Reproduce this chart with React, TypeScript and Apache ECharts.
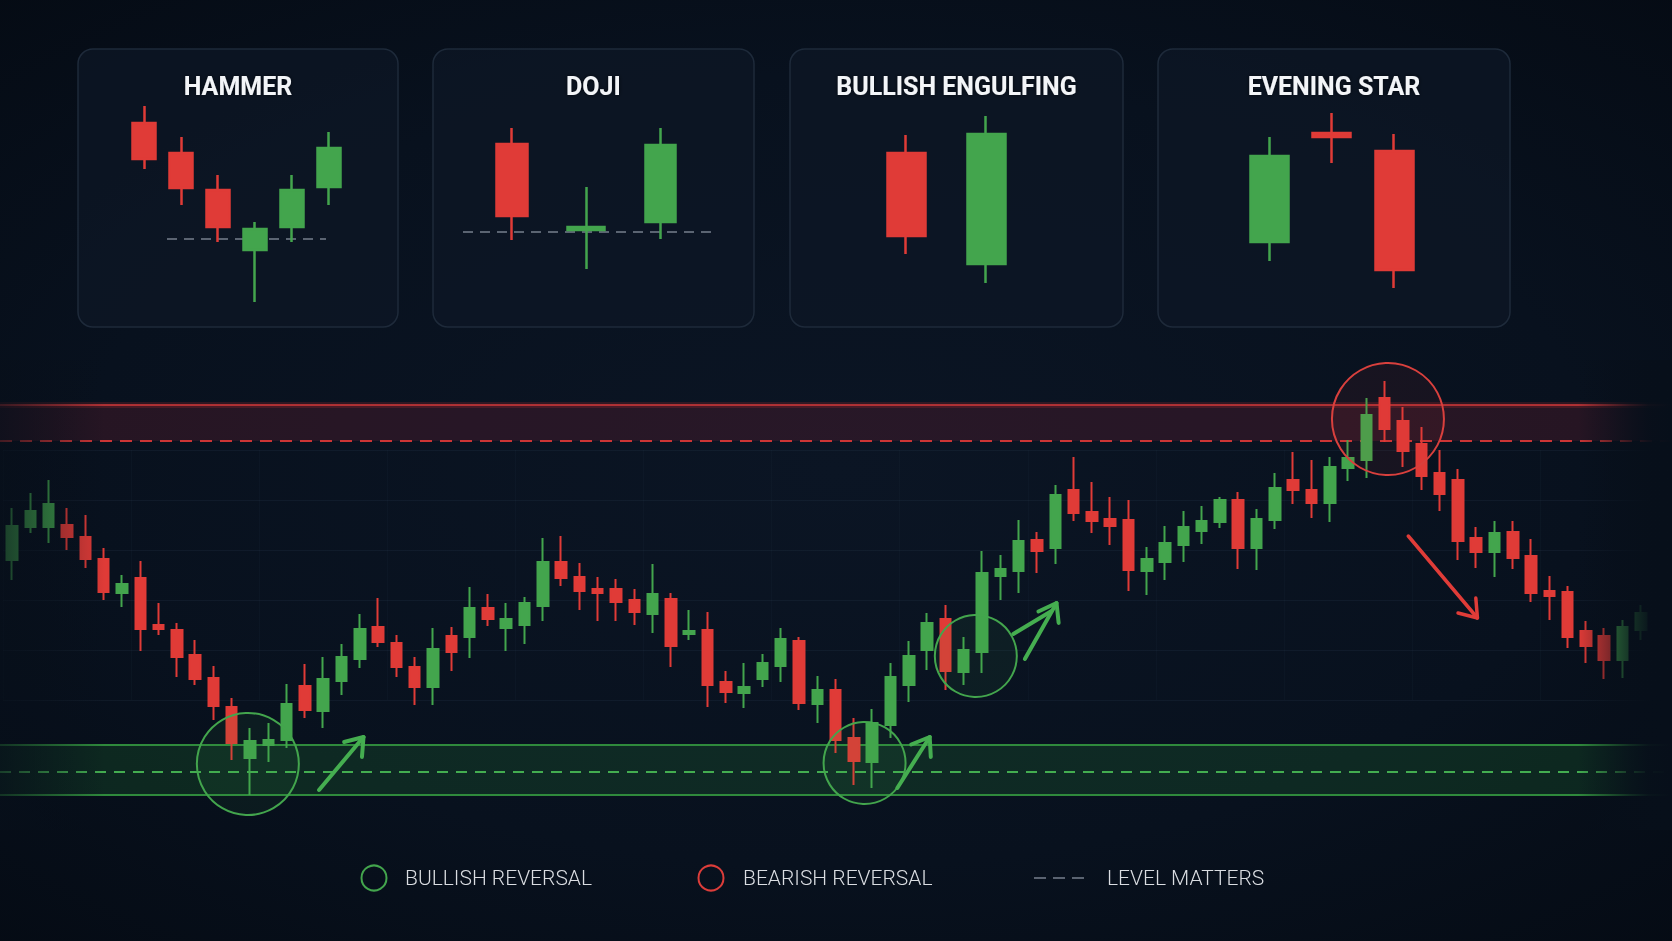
import React, { useEffect, useRef } from "react";
import * as echarts from "echarts";

const W = 1672;
const H = 941;
const GREEN = "#43a54d";
const RED = "#e03b37";
const FADE = "7,15,26";

// ---------- main chart data: [open, close, low, high] ----------
const mainCandles: number[][] = [
  [340, 374, 320, 392], [373, 389, 367, 407], [373, 396, 357, 420], [375, 363, 350, 392],
  [363, 341, 332, 385], [341, 308, 300, 352], [307, 316, 293, 325], [322, 271, 249, 339],
  [275, 271, 265, 297], [270, 243, 223, 277], [245, 221, 215, 260], [222, 194, 180, 234],
  [193, 157, 140, 202], [142, 159, 105, 172], [155, 160, 138, 177], [160, 196, 152, 216],
  [214, 190, 182, 236], [189, 221, 172, 243], [219, 243, 205, 256], [241, 271, 232, 286],
  [273, 258, 253, 302], [257, 233, 223, 265], [233, 213, 195, 243], [213, 251, 195, 272],
  [264, 248, 229, 273], [263, 292, 242, 313], [292, 281, 274, 306], [272, 281, 249, 297],
  [275, 297, 256, 303], [294, 338, 279, 362], [338, 322, 314, 364], [323, 309, 290, 337],
  [311, 307, 279, 323], [311, 298, 279, 321], [300, 288, 275, 311], [286, 306, 267, 336],
  [301, 254, 233, 307], [266, 269, 260, 290], [270, 215, 193, 288], [218, 208, 197, 229],
  [207, 213, 192, 237], [221, 237, 213, 246], [234, 261, 218, 272], [259, 197, 190, 263],
  [196, 210, 177, 224], [210, 160, 147, 221], [162, 139, 115, 182], [138, 177, 112, 191],
  [175, 223, 162, 237], [215, 244, 198, 259], [250, 277, 230, 287], [281, 229, 210, 295],
  [228, 250, 215, 263], [248, 327, 227, 349], [324, 331, 300, 345], [329, 359, 307, 380],
  [360, 349, 327, 368], [352, 405, 336, 415], [410, 387, 379, 443], [388, 379, 367, 418],
  [381, 374, 355, 403], [380, 330, 309, 400], [329, 341, 305, 353], [338, 357, 320, 374],
  [355, 373, 338, 389], [369, 379, 356, 394], [378, 400, 372, 403], [400, 352, 331, 408],
  [352, 381, 330, 391], [380, 412, 371, 427], [420, 410, 396, 448], [410, 397, 382, 440],
  [397, 433, 378, 443], [432, 442, 419, 460], [440, 485, 422, 502], [502, 471, 458, 519],
  [479, 449, 433, 493], [456, 424, 410, 473], [427, 406, 389, 450], [420, 359, 340, 431],
  [362, 348, 332, 373], [348, 367, 323, 379], [368, 342, 331, 379], [344, 307, 298, 361],
  [309, 304, 280, 324], [308, 263, 252, 314], [269, 254, 237, 279], [264, 240, 221, 272],
  [240, 273, 222, 280], [270, 287, 260, 295],
];
const mainCategories = mainCandles.map((_, i) => `T${i + 1}`);

// price levels
const resistanceTop = 495;
const resistanceLevel = 459;
const supportTop = 155;
const supportLevel = 128;
const supportBottom = 105;

// reversal markers: [candle index, price, radius px]
const bullishMarks = [[12.88, 136, 51], [46.58, 137, 41], [52.66, 244, 41]];
const bearishMarks = [[75.18, 481, 56]];
// arrows: [from index, from price, to index, to price]
const bullishArrows = [[16.77, 110, 19.2, 163], [48.37, 112, 50.14, 163], [55.34, 241, 57.07, 297]];
const bearishArrows = [[76.29, 364, 80.07, 282]];
const guideStrokes = [[54.71, 266, 56.8, 289]];

// ---------- pattern panels ----------
const patternTitles = ["HAMMER", "DOJI", "BULLISH ENGULFING", "EVENING STAR"];
const hammerCandles = [
  [177, 141, 131, 194], [147, 112, 95, 163], [110, 73, 58, 125],
  [50, 71, -2, 78], [73, 110, 58, 125], [113, 152, 95, 168],
];
const hammerLevel = 61;
const dojiCandles = [[156, 84, 60, 172], [70, 73, 31, 113], [78, 155, 61, 172]];
const dojiIndex = 1;
const dojiLevel = 68;
const engulfCandles = [[147, 64, 46, 165], [36, 166, 17, 184]];
const starCandles = [[58, 144, 39, 163], [167, 163, 137, 187], [149, 30, 12, 166]];

const legendLabels = ["BULLISH REVERSAL", "BEARISH REVERSAL", "LEVEL MATTERS"];

// ---------- layout ----------
const panelBoxes = [
  { x: 78, y: 49, w: 320, h: 278 },
  { x: 433, y: 49, w: 321, h: 278 },
  { x: 790, y: 49, w: 333, h: 278 },
  { x: 1158, y: 49, w: 352, h: 278 },
];
const panelGrids = [
  { left: 126, width: 221, bar: 23.5 },
  { left: 475, width: 222.6, bar: 31 },
  { left: 866, width: 160, bar: 38.5 },
  { left: 1238.5, width: 186.6, bar: 38.5 },
];
const levelSpans = [[167, 326], [463, 717]];
const legendLayout = [
  { icon: 374, text: 405 },
  { icon: 711, text: 743 },
  { icon: 1034, text: 1107 },
];
const LEGEND_Y = 878;

const EMPTY = ["-", "-", "-", "-"];

function candleStyle(bw: number) {
  return {
    color: GREEN,
    color0: RED,
    borderColor: GREEN,
    borderColor0: RED,
    borderWidth: bw,
  };
}

function buildOption() {
  const panelSets = [hammerCandles, dojiCandles, engulfCandles, starCandles];
  const grids: any[] = [{ left: 3, width: 1647, top: 450, height: 250 }];
  const xAxes: any[] = [
    {
      type: "category",
      gridIndex: 0,
      data: mainCategories,
      boundaryGap: true,
      axisLine: { show: false },
      axisTick: { show: false },
      axisLabel: { show: false },
      splitLine: { show: true, interval: 6, lineStyle: { color: "rgba(70,95,125,0.06)", width: 1 } },
    },
  ];
  const yAxes: any[] = [
    {
      type: "value",
      gridIndex: 0,
      min: 200,
      max: 450,
      interval: 50,
      axisLine: { show: false },
      axisTick: { show: false },
      axisLabel: { show: false },
      splitLine: { show: true, lineStyle: { color: "rgba(70,95,125,0.12)", width: 1 } },
    },
  ];
  const series: any[] = [
    {
      type: "candlestick",
      name: "price",
      xAxisIndex: 0,
      yAxisIndex: 0,
      data: mainCandles,
      barWidth: 11,
      clip: false,
      itemStyle: candleStyle(2),
      z: 3,
    },
  ];
  panelSets.forEach((set, k) => {
    const g = panelGrids[k];
    grids.push({ left: g.left, width: g.width, top: 100, height: 220 });
    xAxes.push({ type: "category", gridIndex: k + 1, data: set.map((_, i) => `${patternTitles[k]}-${i}`), show: false });
    yAxes.push({ type: "value", gridIndex: k + 1, min: -20, max: 200, show: false });
    const isDoji = k === 1;
    series.push({
      type: "candlestick",
      xAxisIndex: k + 1,
      yAxisIndex: k + 1,
      data: isDoji ? set.map((c, i) => (i === dojiIndex ? EMPTY : c)) : set,
      barWidth: g.bar,
      clip: false,
      itemStyle: candleStyle(2.5),
      z: 3,
    });
    if (isDoji) {
      series.push({
        type: "candlestick",
        xAxisIndex: k + 1,
        yAxisIndex: k + 1,
        data: set.map((c, i) => (i === dojiIndex ? c : EMPTY)),
        barWidth: 37.5,
        clip: false,
        itemStyle: candleStyle(2.5),
        z: 3,
      });
    }
  });
  return {
    animation: false,
    backgroundColor: "transparent",
    grid: grids,
    xAxis: xAxes,
    yAxis: yAxes,
    series,
  };
}

function buildGraphics(chart: any) {
  const px = (gi: number, i: number, v: number) =>
    chart.convertToPixel({ gridIndex: gi }, [i, v]) as number[];
  const mp = (i: number, v: number) => {
    const i0 = Math.floor(i);
    const f = i - i0;
    const a = px(0, i0, v);
    const b = px(0, i0 + 1, v);
    return [a[0] + (b[0] - a[0]) * f, a[1]];
  };
  const yOf = (v: number) => px(0, 0, v)[1];
  const els: any[] = [];

  // panels
  panelBoxes.forEach((b, k) => {
    els.push({
      type: "rect",
      z: 0,
      shape: { x: b.x, y: b.y, width: b.w, height: b.h, r: 15 },
      style: { fill: "rgba(13,23,37,0.75)", stroke: "#1e2a3a", lineWidth: 1.5 },
    });
    els.push({
      type: "text",
      z: 6,
      style: {
        text: patternTitles[k],
        x: b.x + b.w / 2,
        y: 86,
        align: "center",
        verticalAlign: "middle",
        fontFamily: "Roboto",
        fontWeight: "bold",
        fontSize: 25,
        fill: "#f3f5f8",
        textShadowColor: "rgba(0,0,0,0.6)",
        textShadowBlur: 4,
      },
    });
  });
  const levels = [hammerLevel, dojiLevel];
  levels.forEach((lv, k) => {
    const y = px(k + 1, 0, lv)[1];
    els.push({
      type: "line",
      z: 1,
      shape: { x1: levelSpans[k][0], y1: y, x2: levelSpans[k][1], y2: y },
      style: { stroke: "#5b6472", lineWidth: 2, lineDash: [10, 7] },
    });
  });

  // zones
  const rTop = yOf(resistanceTop), rLv = yOf(resistanceLevel);
  const sTop = yOf(supportTop), sLv = yOf(supportLevel), sBot = yOf(supportBottom);
  els.push({ type: "rect", z: 0, shape: { x: 0, y: rTop, width: W, height: rLv - rTop }, style: { fill: "rgba(150,40,55,0.21)" } });
  els.push({ type: "rect", z: 0, shape: { x: 0, y: sTop, width: W, height: sBot - sTop }, style: { fill: "rgba(40,150,60,0.19)" } });
  els.push({ type: "line", z: 1, shape: { x1: 0, y1: rTop, x2: W, y2: rTop }, style: { stroke: "rgba(220,50,50,0.18)", lineWidth: 6 } });
  els.push({ type: "line", z: 1, shape: { x1: 0, y1: rTop, x2: W, y2: rTop }, style: { stroke: "#d43a3a", lineWidth: 1.6 } });
  els.push({ type: "line", z: 1, shape: { x1: 0, y1: rLv, x2: W, y2: rLv }, style: { stroke: "#cc3535", lineWidth: 2, lineDash: [12, 8] } });
  els.push({ type: "line", z: 1, shape: { x1: 0, y1: sTop, x2: W, y2: sTop }, style: { stroke: "#2f8a3c", lineWidth: 2 } });
  els.push({ type: "line", z: 1, shape: { x1: 0, y1: sBot, x2: W, y2: sBot }, style: { stroke: "#2f8a3c", lineWidth: 2 } });
  els.push({ type: "line", z: 1, shape: { x1: 0, y1: sLv, x2: W, y2: sLv }, style: { stroke: "#43ad50", lineWidth: 2, lineDash: [11, 8] } });

  // reversal circles
  const circ = (m: number[], color: string, fill: string) => {
    const c = mp(m[0], m[1]);
    els.push({ type: "circle", z: 6, shape: { cx: c[0], cy: c[1], r: m[2] }, style: { fill, stroke: color, lineWidth: 2 } });
  };
  bullishMarks.forEach((m) => circ(m, GREEN, "rgba(60,170,80,0.08)"));
  bearishMarks.forEach((m) => circ(m, "#d9403d", "rgba(220,60,60,0.07)"));

  // arrows
  const arrow = (a: number[], color: string, lw: number) => {
    const tail = mp(a[0], a[1]);
    const tip = mp(a[2], a[3]);
    const dx = tail[0] - tip[0], dy = tail[1] - tip[1];
    const d = Math.hypot(dx, dy);
    const ux = dx / d, uy = dy / d;
    const rot = (ang: number, len: number) => [
      tip[0] + len * (ux * Math.cos(ang) - uy * Math.sin(ang)),
      tip[1] + len * (ux * Math.sin(ang) + uy * Math.cos(ang)),
    ];
    const st = { stroke: color, lineWidth: lw, lineCap: "round", lineJoin: "round", fill: null };
    els.push({ type: "polyline", z: 7, shape: { points: [tail, tip] }, style: st });
    els.push({ type: "polyline", z: 7, shape: { points: [rot(0.62, 20), tip, rot(-0.62, 20)] }, style: st });
  };
  bullishArrows.forEach((a) => arrow(a, "#45ae50", 4));
  bearishArrows.forEach((a) => arrow(a, "#e03c38", 3.5));
  guideStrokes.forEach((g) => {
    const p = mp(g[0], g[1]), q = mp(g[2], g[3]);
    els.push({ type: "polyline", z: 7, shape: { points: [p, q] }, style: { stroke: "#45ae50", lineWidth: 4, lineCap: "round", fill: null } });
  });

  // edge fades
  els.push({
    type: "rect", z: 9, shape: { x: 0, y: 360, width: 105, height: 470 },
    style: {
      fill: {
        type: "linear", x: 0, y: 0, x2: 1, y2: 0,
        colorStops: [
          { offset: 0, color: `rgba(${FADE},0.7)` },
          { offset: 0.5, color: `rgba(${FADE},0.35)` },
          { offset: 1, color: `rgba(${FADE},0)` },
        ],
      },
    },
  });
  els.push({
    type: "rect", z: 9, shape: { x: 1578, y: 360, width: 94, height: 470 },
    style: {
      fill: {
        type: "linear", x: 0, y: 0, x2: 1, y2: 0,
        colorStops: [
          { offset: 0, color: `rgba(${FADE},0)` },
          { offset: 0.3, color: `rgba(${FADE},0.4)` },
          { offset: 0.55, color: `rgba(${FADE},0.75)` },
          { offset: 0.75, color: `rgba(${FADE},0.95)` },
          { offset: 1, color: `rgba(${FADE},1)` },
        ],
      },
    },
  });

  // legend
  const textStyle = (t: string, x: number) => ({
    type: "text",
    z: 10,
    style: {
      text: t, x, y: LEGEND_Y, align: "left", verticalAlign: "middle",
      fontFamily: "Roboto", fontWeight: 300, fontSize: 21, fill: "#dadde2",
    },
  });
  els.push({ type: "circle", z: 10, shape: { cx: legendLayout[0].icon, cy: LEGEND_Y, r: 12.5 }, style: { fill: "none", stroke: GREEN, lineWidth: 2 } });
  els.push(textStyle(legendLabels[0], legendLayout[0].text));
  els.push({ type: "circle", z: 10, shape: { cx: legendLayout[1].icon, cy: LEGEND_Y, r: 12.5 }, style: { fill: "none", stroke: "#dc3d3a", lineWidth: 2 } });
  els.push(textStyle(legendLabels[1], legendLayout[1].text));
  els.push({
    type: "line", z: 10,
    shape: { x1: legendLayout[2].icon, y1: LEGEND_Y, x2: legendLayout[2].icon + 50, y2: LEGEND_Y },
    style: { stroke: "#5a6371", lineWidth: 2, lineDash: [12, 7] },
  });
  els.push(textStyle(legendLabels[2], legendLayout[2].text));
  return els;
}

export default function App() {
  const ref = useRef<HTMLDivElement>(null);
  useEffect(() => {
    document.body.style.margin = "0";
    const chart = echarts.init(ref.current!, null, { renderer: "svg", width: W, height: H });
    chart.setOption(buildOption());
    chart.setOption({ graphic: { elements: buildGraphics(chart) } });
    return () => chart.dispose();
  }, []);
  return (
    <div
      ref={ref}
      style={{
        position: "fixed",
        left: 0,
        top: 0,
        width: W,
        height: H,
        background:
          "radial-gradient(ellipse 75% 70% at 50% 50%, #0b1524 0%, #08111e 60%, #050b14 100%)",
      }}
    />
  );
}
